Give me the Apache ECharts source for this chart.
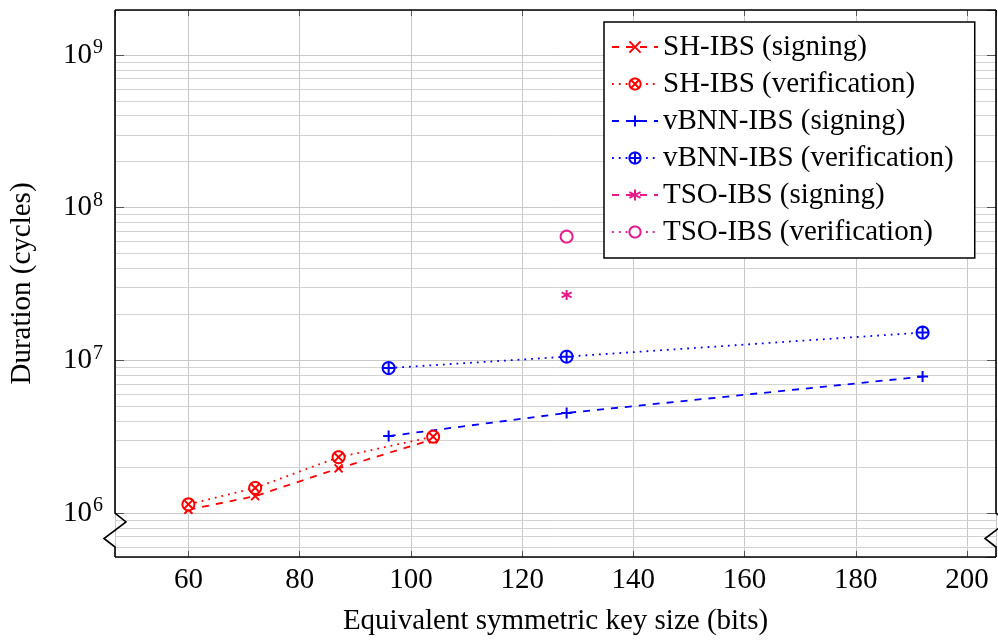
<!DOCTYPE html>
<html>
<head>
<meta charset="utf-8">
<script src="https://cdn.jsdelivr.net/npm/echarts@6/dist/echarts.min.js"></script>
<style>
  html, body { margin: 0; padding: 0; background: #fff; }
  #chart { width: 998px; height: 641px; }
</style>
</head>
<body>
<div id="chart"></div>
<script>
// data
var shX = [60, 72, 87, 104];
var shSign = [1.05e6, 1.29e6, 1.96e6, 3.04e6];
var shVerif = [1.14e6, 1.46e6, 2.32e6, 3.16e6];
var vbX = [96, 128, 192];
var vbSign = [3.19e6, 4.52e6, 7.82e6];
var vbVerif = [8.9e6, 1.057e7, 1.52e7];
var tsoX = [128];
var tsoSign = [2.68e7];
var tsoVerif = [6.46e7];

var xMin = 46.8, xMax = 205.2;
var yMin = 5.15e5, yMax = 1.97e9;

var RED = '#ff0000', BLUE = '#0000ff', MAG = '#e8198b';
var FONT = '"Liberation Serif", "Times New Roman", serif';

// circle outline as a polygon (arcs in path symbols misbehave in the legend)
function ring() {
  var s = '';
  for (var i = 0; i <= 32; i++) {
    var a = i / 32 * Math.PI * 2;
    s += (i === 0 ? 'M' : 'L') + (5 + 5 * Math.cos(a)).toFixed(3) + ',' + (5 + 5 * Math.sin(a)).toFixed(3) + ' ';
  }
  return s + 'Z ';
}
var SYM_X = 'path://M0,0 L10,10 M10,0 L0,10';
var SYM_OTIMES = 'path://' + ring() + 'M1.5,1.5 L8.5,8.5 M8.5,1.5 L1.5,8.5';
var SYM_PLUS = 'path://M0,5 L10,5 M5,0 L5,10';
var SYM_OPLUS = 'path://' + ring() + 'M0,5 L10,5 M5,0 L5,10';
var SYM_STAR = 'path://M5,0 L5,10 M0.67,2.5 L9.33,7.5 M0.67,7.5 L9.33,2.5';
var SYM_O = 'path://' + ring();

function pairs(xs, ys) {
  return xs.map(function (x, i) { return [x, ys[i]]; });
}

// minor log grid lines 2..9 x 10^k
var minorLines = [];
for (var e = 5; e <= 9; e++) {
  for (var m = 2; m <= 9; m++) {
    var v = m * Math.pow(10, e);
    if (v > yMin && v < yMax) minorLines.push({ yAxis: v });
  }
}

function mkSeries(name, xs, ys, color, dash, sym, size) {
  return {
    name: name,
    type: 'line',
    z: 5,
    data: pairs(xs, ys),
    symbol: sym,
    symbolSize: size,
    showAllSymbol: true,
    lineStyle: { color: color, width: 1.8, type: dash },
    itemStyle: { color: '#fff', borderColor: color, borderWidth: 2 },
    emphasis: { disabled: true }
  };
}

var myChart = echarts.init(document.getElementById('chart'));

var option = {
  animation: false,
  grid: { left: 115, top: 10, right: 2, bottom: 84, show: false },
  legend: {
    data: ['SH-IBS (signing)', 'SH-IBS (verification)', 'vBNN-IBS (signing)',
           'vBNN-IBS (verification)', 'TSO-IBS (signing)', 'TSO-IBS (verification)'],
    orient: 'vertical',
    left: 604,
    top: 22,
    z: 10,
    backgroundColor: '#fff',
    borderColor: '#000',
    borderWidth: 1.5,
    borderRadius: 0,
    padding: [10, 21, 11, 7],
    itemWidth: 46,
    itemHeight: 14,
    itemGap: 7,
    selectedMode: false,
    textStyle: { fontFamily: FONT, fontSize: 29, color: '#000', lineHeight: 30 }
  },
  xAxis: [{
    type: 'value',
    min: xMin,
    max: xMax,
    splitNumber: 8,
    name: 'Equivalent symmetric key size (bits)',
    nameLocation: 'middle',
    nameGap: 50,
    nameTextStyle: { fontFamily: FONT, fontSize: 29, color: '#000' },
    axisLine: { show: false },
    axisTick: { show: true, inside: true, length: 6, lineStyle: { color: '#555' } },
    axisLabel: {
      fontFamily: FONT, fontSize: 29, color: '#000', margin: 9,
      showMinLabel: false, showMaxLabel: false
    },
    splitLine: { show: true, lineStyle: { color: '#c8c8c8', width: 1 } }
  }, {
    type: 'value',
    position: 'top',
    min: xMin,
    max: xMax,
    splitNumber: 8,
    axisLine: { show: false },
    axisTick: { show: true, inside: true, length: 6, lineStyle: { color: '#555' } },
    axisLabel: { show: false },
    splitLine: { show: false }
  }],
  yAxis: [{
    type: 'log',
    min: yMin,
    max: yMax,
    name: 'Duration (cycles)',
    nameLocation: 'middle',
    nameGap: 78,
    nameTextStyle: { fontFamily: FONT, fontSize: 29, color: '#000' },
    axisLine: { show: false },
    axisTick: { show: true, inside: true, length: 9, lineStyle: { color: '#555' } },
    axisLabel: {
      margin: 12,
      showMinLabel: false, showMaxLabel: false,
      formatter: function (val) {
        var ex = Math.round(Math.log10(val));
        if (Math.abs(Math.log10(val) - ex) > 1e-6) return '';
        return '{b|10}{s|' + ex + '}';
      },
      rich: {
        b: { fontFamily: FONT, fontSize: 29, color: '#000' },
        s: { fontFamily: FONT, fontSize: 20, color: '#000', verticalAlign: 'top', padding: [0, 0, 14, 1] }
      }
    },
    splitLine: { show: true, lineStyle: { color: '#c8c8c8', width: 1 } }
  }, {
    type: 'log',
    position: 'right',
    min: yMin,
    max: yMax,
    axisLine: { show: false },
    axisTick: { show: true, inside: true, length: 9, lineStyle: { color: '#555' } },
    axisLabel: { show: false },
    splitLine: { show: false }
  }],
  series: [
    {
      name: 'grid-minor',
      type: 'line',
      z: 1,
      data: [],
      silent: true,
      markLine: {
        silent: true,
        symbol: 'none',
        label: { show: false },
        lineStyle: { color: '#d2d2d2', width: 1, type: 'solid' },
        emphasis: { disabled: true },
        data: minorLines
      }
    },
    mkSeries('SH-IBS (signing)', shX, shSign, RED, [7, 7], SYM_X, 8),
    mkSeries('SH-IBS (verification)', shX, shVerif, RED, [1.8, 5], SYM_OTIMES, 12),
    mkSeries('vBNN-IBS (signing)', vbX, vbSign, BLUE, [7, 7], SYM_PLUS, 11),
    mkSeries('vBNN-IBS (verification)', vbX, vbVerif, BLUE, [1.8, 5], SYM_OPLUS, 12),
    mkSeries('TSO-IBS (signing)', tsoX, tsoSign, MAG, [7, 7], SYM_STAR, 10),
    mkSeries('TSO-IBS (verification)', tsoX, tsoVerif, MAG, [1.8, 5], SYM_O, 12)
  ]
};

myChart.setOption(option);

// frame with the axis-break zigzag (pgfplots "crunch")
var tl = myChart.convertToPixel({ gridIndex: 0 }, [xMin, yMax]);
var br = myChart.convertToPixel({ gridIndex: 0 }, [xMax, yMin]);
var yb = myChart.convertToPixel({ yAxisIndex: 0 }, 1e6);
var L = tl[0], T = tl[1], R = br[0], B = br[1];
function side(x) {
  return [[x, T], [x, yb], [x + 11, yb + 9], [x - 11, yb + 25.5], [x, yb + 34], [x, B]];
}
var frameStyle = { stroke: '#000', lineWidth: 1.6, fill: null };
myChart.setOption({
  graphic: [
    { type: 'polyline', z: 100, shape: { points: [[L, T], [R, T]] }, style: frameStyle },
    { type: 'polyline', z: 100, shape: { points: [[L, B], [R, B]] }, style: frameStyle },
    { type: 'polyline', z: 100, shape: { points: side(L) }, style: frameStyle },
    { type: 'polyline', z: 100, shape: { points: side(R) }, style: frameStyle }
  ]
});
</script>
</body>
</html>
